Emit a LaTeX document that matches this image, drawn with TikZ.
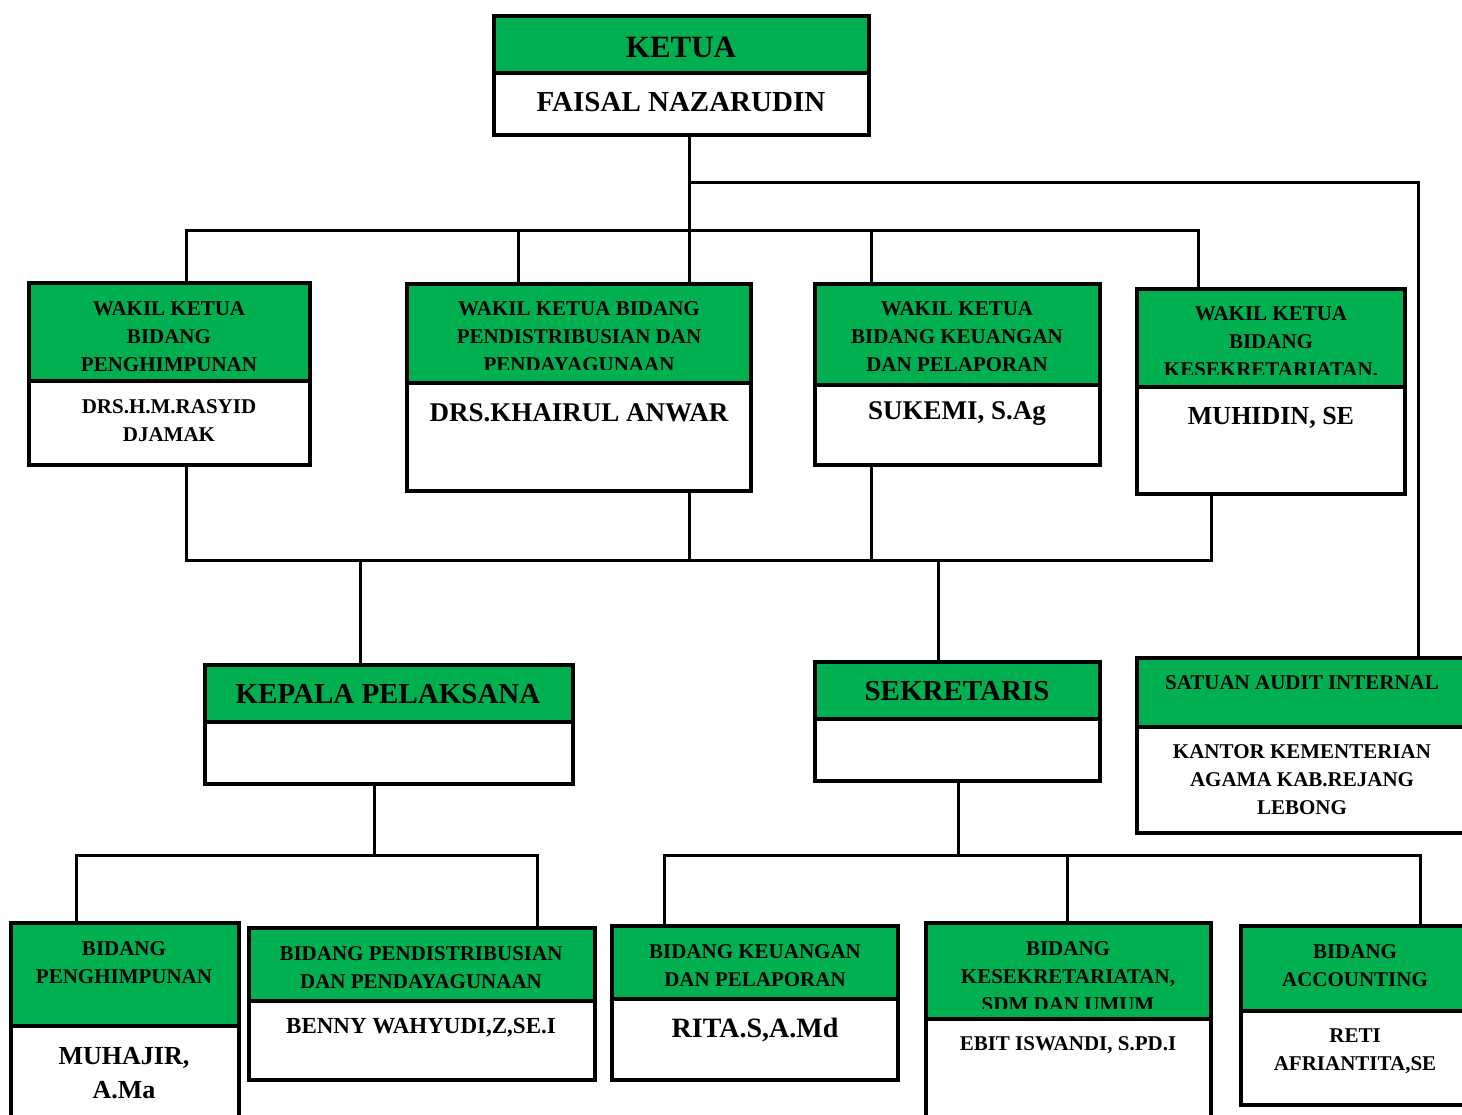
\documentclass[tikz,border=0pt]{standalone}
\usepackage{fontspec}
\setmainfont{Liberation Serif}
\definecolor{ogreen}{HTML}{00B050}
\tikzset{
  hdr/.style={draw, fill=ogreen, line width=3.5pt, inner sep=0pt, outer sep=0pt},
  bdy/.style={draw, fill=white, line width=3.5pt, inner sep=0pt, outer sep=0pt},
  conn/.style={line width=3pt, line join=miter},
  txt/.style={inner sep=0pt, align=center, text=black},
  t21/.style={txt, font=\bfseries\fontsize{21}{28}\selectfont},
  t23/.style={txt, font=\bfseries\fontsize{23}{28}\selectfont},
  t26/.style={txt, font=\bfseries\fontsize{26}{34}\selectfont},
  t27/.style={txt, font=\bfseries\fontsize{27}{34}\selectfont},
  t28/.style={txt, font=\bfseries\fontsize{28}{34}\selectfont},
  t29/.style={txt, font=\bfseries\fontsize{29}{34}\selectfont},
  t31/.style={txt, font=\bfseries\fontsize{31}{36}\selectfont},
}
% name x1 y1 x2 ydiv y2
\newcommand\orghead[6]{%
  \node[hdr, minimum width={(#4-#2)*1pt}, minimum height={(#5-#3)*1pt}] (#1h) at ({(#2+#4)/2},{(#3+#5)/2}) {};}
\newcommand\orgbody[6]{%
  \node[bdy, minimum width={(#4-#2)*1pt}, minimum height={(#6-#5)*1pt}] (#1b) at ({(#2+#4)/2},{(#5+#6)/2}) {};}
\begin{document}
\begin{tikzpicture}[x=1pt, y=-1pt]
\clip (0,0) rectangle (1462,1115);
\fill[white] (0,0) rectangle (1462,1115);

% column / bus coordinates
\coordinate (c76) at (76,0);
\coordinate (c186) at (186,0);
\coordinate (c360) at (360,0);
\coordinate (c374) at (374,0);
\coordinate (c518) at (518,0);
\coordinate (c537) at (537,0);
\coordinate (c664) at (664,0);
\coordinate (c689) at (689,0);
\coordinate (c871) at (871,0);
\coordinate (c938) at (938,0);
\coordinate (c958) at (958,0);
\coordinate (c1067) at (1067,0);
\coordinate (c1198) at (1198,0);
\coordinate (c1211) at (1211,0);
\coordinate (c1418) at (1418,0);
\coordinate (c1420) at (1420,0);
\coordinate (busA) at (0,183);
\coordinate (busB) at (0,231);
\coordinate (busC) at (0,560);
\coordinate (busD) at (0,855);

% ---------- boxes ----------
% KETUA
\orghead{k}{494}{16}{869}{73}{135}
\node[t31] at (681,47) {KETUA};
\orgbody{k}{494}{16}{869}{73}{135}
\node[t29] at (681,102) {FAISAL NAZARUDIN};

% Wakil 1
\orghead{wa}{29}{283}{310}{381}{465}
\node[t21] at (169,337) {WAKIL KETUA\\BIDANG\\PENGHIMPUNAN};
\orgbody{wa}{29}{283}{310}{381}{465}
\node[t21] at (169,421) {DRS.H.M.RASYID\\DJAMAK};

% Wakil 2
\orghead{wb}{407}{284}{751}{383}{491}
\begin{scope}
\clip (407,284) rectangle (751,369);
\node[t21] at (579,337) {WAKIL KETUA BIDANG\\PENDISTRIBUSIAN DAN\\PENDAYAGUNAAN};
\end{scope}
\orgbody{wb}{407}{284}{751}{383}{491}
\node[t27] at (579,413) {DRS.KHAIRUL ANWAR};

% Wakil 3
\orghead{wc}{815}{284}{1100}{385}{465}
\node[t21] at (957,337) {WAKIL KETUA\\BIDANG KEUANGAN\\DAN PELAPORAN};
\orgbody{wc}{815}{284}{1100}{385}{465}
\node[t27] at (957,414) {SUKEMI, S.Ag};

% Wakil 4
\orghead{wd}{1137}{289}{1405}{387}{494}
\begin{scope}
\clip (1137,289) rectangle (1405,374);
\node[t21] at (1271,342) {WAKIL KETUA\\BIDANG\\KESEKRETARIATAN.};
\end{scope}
\orgbody{wd}{1137}{289}{1405}{387}{494}
\node[t26] at (1271,418) {MUHIDIN, SE};

% Kepala Pelaksana
\orghead{kp}{205}{665}{573}{722}{784}
\node[t29] at (388,694) {KEPALA PELAKSANA};
\orgbody{kp}{205}{665}{573}{722}{784}

% Sekretaris
\orghead{sk}{815}{662}{1100}{719}{781}
\node[t29] at (957,691) {SEKRETARIS};
\orgbody{sk}{815}{662}{1100}{719}{781}

% Satuan Audit Internal
\orghead{sa}{1137}{658}{1468}{727}{833}
\node[t21] at (1302,683) {SATUAN AUDIT INTERNAL};
\orgbody{sa}{1137}{658}{1468}{727}{833}
\node[t21] at (1302,780) {KANTOR KEMENTERIAN\\AGAMA KAB.REJANG\\LEBONG};

% Bidang Penghimpunan
\orghead{ba}{11}{923}{239}{1026}{1135}
\node[t21] at (124,963) {BIDANG\\PENGHIMPUNAN};
\orgbody{ba}{11}{923}{239}{1026}{1135}
\node[t26] at (124,1073) {MUHAJIR,\\A.Ma};

% Bidang Pendistribusian
\orghead{bb}{249}{928}{595}{1001}{1080}
\node[t21] at (421,968) {BIDANG PENDISTRIBUSIAN\\DAN PENDAYAGUNAAN};
\orgbody{bb}{249}{928}{595}{1001}{1080}
\node[t23] at (421,1028) {BENNY WAHYUDI,Z,SE.I};

% Bidang Keuangan
\orghead{bc}{612}{926}{898}{999}{1080}
\node[t21] at (755,966) {BIDANG KEUANGAN\\DAN PELAPORAN};
\orgbody{bc}{612}{926}{898}{999}{1080}
\node[t28] at (755,1030) {RITA.S,A.Md};

% Bidang Kesekretariatan
\orghead{bd}{926}{923}{1211}{1019}{1135}
\begin{scope}
\clip (926,923) rectangle (1211,1008);
\node[t21] at (1068,977) {BIDANG\\KESEKRETARIATAN,\\SDM DAN UMUM};
\end{scope}
\orgbody{bd}{926}{923}{1211}{1019}{1135}
\node[t21] at (1068,1045) {EBIT ISWANDI, S.PD.I};

% Bidang Accounting
\orghead{be}{1241}{926}{1469}{1011}{1105}
\node[t21] at (1355,966) {BIDANG\\ACCOUNTING};
\orgbody{be}{1241}{926}{1469}{1011}{1105}
\node[t21] at (1355,1051) {RETI\\AFRIANTITA,SE};

% ---------- connectors ----------
\draw[conn] (kb.south -| c689) -- (wbh.north -| c689);
\draw[conn] (c689 |- busA) -- (c1418 |- busA) -- (sah.north -| c1418);
\draw[conn] (wah.north -| c186) -- (c186 |- busB) -- (c1198 |- busB) -- (wdh.north -| c1198);
\draw[conn] (c518 |- busB) -- (wbh.north -| c518);
\draw[conn] (c871 |- busB) -- (wch.north -| c871);

\draw[conn] (wab.south -| c186) -- (c186 |- busC) -- (c1211 |- busC) -- (wdb.south -| c1211);
\draw[conn] (wbb.south -| c689) -- (c689 |- busC);
\draw[conn] (wcb.south -| c871) -- (c871 |- busC);
\draw[conn] (c360 |- busC) -- (kph.north -| c360);
\draw[conn] (c938 |- busC) -- (skh.north -| c938);

\draw[conn] (kpb.south -| c374) -- (c374 |- busD);
\draw[conn] (bah.north -| c76) -- (c76 |- busD) -- (c537 |- busD) -- (bbh.north -| c537);

\draw[conn] (skb.south -| c958) -- (c958 |- busD);
\draw[conn] (bch.north -| c664) -- (c664 |- busD) -- (c1420 |- busD) -- (beh.north -| c1420);
\draw[conn] (c1067 |- busD) -- (bdh.north -| c1067);
\end{tikzpicture}
\end{document}
